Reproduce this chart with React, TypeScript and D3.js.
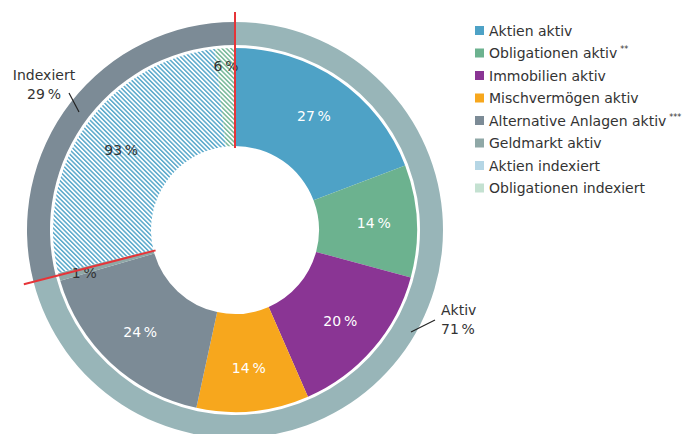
import * as d3 from "d3";
import { useEffect, useRef } from "react";

// Anteile (in % der jeweiligen Gruppe)
const groups = ["Aktiv", "Indexiert"];
const groupShares = [71, 29];

const activeLabels = [
  "Aktien aktiv",
  "Obligationen aktiv",
  "Immobilien aktiv",
  "Mischvermögen aktiv",
  "Alternative Anlagen aktiv",
  "Geldmarkt aktiv",
];
const activeValues = [27, 14, 20, 14, 24, 1];

const indexLabels = ["Aktien indexiert", "Obligationen indexiert"];
const indexValues = [93, 6];

const legendLabels = [...activeLabels, ...indexLabels];
const legendSup = ["", "**", "", "", "***", "", "", ""];

const colors = {
  "Aktien aktiv": "#4ea2c6",
  "Obligationen aktiv": "#6cb28f",
  "Immobilien aktiv": "#8a3594",
  "Mischvermögen aktiv": "#f7a71d",
  "Alternative Anlagen aktiv": "#7c8b96",
  "Geldmarkt aktiv": "#8fa8a7",
  "Aktien indexiert": "#b5d6e5",
  "Obligationen indexiert": "#c4e1d1",
};
const hatchColors = {
  "Aktien indexiert": "#5aa9cb",
  "Obligationen indexiert": "#76b898",
};
const ringColors = ["#98b5b8", "#7c8b96"];

const font = "'DejaVu Sans', Verdana, sans-serif";
const W = 688;
const H = 434;

const App = () => {
  const ref = useRef(null);

  useEffect(() => {
    const svg = d3.select(ref.current);
    svg.selectAll("*").remove();

    const cx = 235;
    const cy = 230;
    const rHole = 84;
    const rPie = 182;
    const rRingIn = 185;
    const rRingOut = 208;

    const defs = svg.append("defs");
    Object.entries(hatchColors).forEach(([k, c], i) => {
      const p = defs.append("pattern")
        .attr("id", "hatch" + i)
        .attr("patternUnits", "userSpaceOnUse")
        .attr("width", 3.2)
        .attr("height", 6)
        .attr("patternTransform", "rotate(-45)");
      p.append("rect").attr("width", 3.2).attr("height", 6).attr("fill", "#fff");
      p.append("rect").attr("width", 1.5).attr("height", 6).attr("fill", c);
    });

    const slices = [
      ...activeLabels.map((l, i) => ({ label: l, pct: activeValues[i], w: activeValues[i] * groupShares[0] })),
      ...indexLabels.map((l, i) => ({ label: l, pct: indexValues[i], w: indexValues[i] * groupShares[1] })),
    ];

    const pie = d3.pie().sort(null).value(d => d.w);
    const arcs = pie(slices);
    const arc = d3.arc().innerRadius(rHole).outerRadius(rPie);

    const g = svg.append("g").attr("transform", `translate(${cx},${cy})`);

    g.selectAll("path.slice")
      .data(arcs)
      .enter()
      .append("path")
      .attr("class", "slice")
      .attr("d", arc)
      .attr("fill", d => {
        const hi = indexLabels.indexOf(d.data.label);
        return hi >= 0 ? `url(#hatch${hi})` : colors[d.data.label];
      });

    // outer ring
    const ringArcs = d3.pie().sort(null)(groupShares);
    const ringArc = d3.arc().innerRadius(rRingIn).outerRadius(rRingOut);
    g.selectAll("path.ring")
      .data(ringArcs)
      .enter()
      .append("path")
      .attr("class", "ring")
      .attr("d", ringArc)
      .attr("fill", (d, i) => ringColors[i]);

    // slice labels
    const labelRadius = {
      "Geldmarkt aktiv": 156,
      "Obligationen indexiert": 164,
    };
    const labelDy = { "Geldmarkt aktiv": 3 };
    arcs.forEach(d => {
      const a = (d.startAngle + d.endAngle) / 2;
      const r = labelRadius[d.data.label] || 139;
      const dark = d.data.label.includes("indexiert") || d.data.label === "Geldmarkt aktiv";
      g.append("text")
        .attr("x", Math.sin(a) * r)
        .attr("y", -Math.cos(a) * r + (labelDy[d.data.label] || 0))
        .attr("text-anchor", "middle")
        .attr("dominant-baseline", "central")
        .attr("font-family", font)
        .attr("font-size", 14)
        .attr("fill", dark ? "#333" : "#fff")
        .text(`${d.data.pct}\u202f%`);
    });

    // red split lines
    const split = ringArcs[0].endAngle;
    [0, split].forEach(a => {
      g.append("line")
        .attr("x1", Math.sin(a) * 82)
        .attr("y1", -Math.cos(a) * 82)
        .attr("x2", Math.sin(a) * 218)
        .attr("y2", -Math.cos(a) * 218)
        .attr("stroke", "#e63438")
        .attr("stroke-width", 2);
    });

    // group labels
    const gl = [
      { x: 44, y: 75, anchor: "middle", line: [69, 93, 79, 112] },
      { x: 441, y: 310, anchor: "start", line: [411, 332, 435, 320] },
    ];
    const glOrder = [1, 0];
    glOrder.forEach((gi, k) => {
      const o = gl[k];
      const t = svg.append("text")
        .attr("font-family", font)
        .attr("font-size", 14)
        .attr("fill", "#333")
        .attr("text-anchor", o.anchor);
      t.append("tspan").attr("x", o.x).attr("y", o.y + 5).text(groups[gi]);
      t.append("tspan").attr("x", o.x).attr("y", o.y + 24).text(`${groupShares[gi]}\u202f%`);
      svg.append("line")
        .attr("x1", o.line[0]).attr("y1", o.line[1])
        .attr("x2", o.line[2]).attr("y2", o.line[3])
        .attr("stroke", "#222").attr("stroke-width", 1.2);
    });

    // legend
    const ly = d3.scaleLinear().domain([0, legendLabels.length - 1]).range([30.5, 188]);
    legendLabels.forEach((l, i) => {
      const y = ly(i);
      svg.append("rect")
        .attr("x", 475).attr("y", y - 4.5)
        .attr("width", 9).attr("height", 9)
        .attr("fill", colors[l]);
      const t = svg.append("text")
        .attr("x", 489).attr("y", y + 5)
        .attr("font-family", font)
        .attr("font-size", 14)
        .attr("fill", "#333")
        .text(l);
      if (legendSup[i]) {
        t.append("tspan")
          .attr("dx", 3).attr("dy", -6)
          .attr("font-size", 8)
          .text(legendSup[i]);
      }
    });
  }, []);

  return (
    <svg
      ref={ref}
      width={W}
      height={H}
      style={{ position: "absolute", left: 0, top: 0, background: "#fff" }}
    ></svg>
  );
};

export default App;
